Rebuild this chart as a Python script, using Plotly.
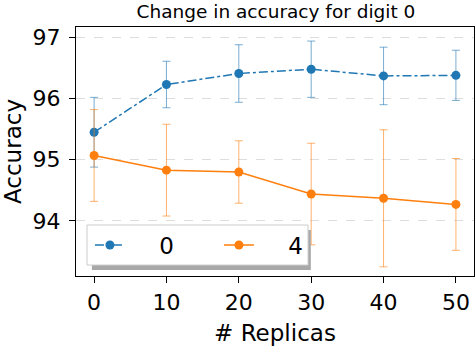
import plotly.graph_objects as go

replicas = [0, 10, 20, 30, 40, 50]

# digit 0 series
acc_0 = [95.45, 96.23, 96.41, 96.48, 96.37, 96.38]
err_0 = [0.57, 0.38, 0.47, 0.46, 0.47, 0.41]

# digit 4 series
acc_4 = [95.07, 94.83, 94.80, 94.44, 94.37, 94.27]
err_4 = [0.75, 0.75, 0.51, 0.83, 1.12, 0.75]

blue = "#1f77b4"
orange = "#ff7f0e"
pad = "\u00a0" * 4  # gap between legend symbol and label

fig = go.Figure()

fig.add_trace(go.Scatter(
    x=replicas, y=acc_0, name=pad + "0",
    mode="lines+markers",
    line=dict(color=blue, width=1.5, dash="dashdot"),
    marker=dict(color=blue, size=9),
    error_y=dict(type="data", array=err_0, color="rgba(31,119,180,0.6)",
                 thickness=1, width=4),
))

fig.add_trace(go.Scatter(
    x=replicas, y=acc_4, name=pad + "4",
    mode="lines+markers",
    line=dict(color=orange, width=1.5),
    marker=dict(color=orange, size=9),
    error_y=dict(type="data", array=err_4, color="rgba(255,127,14,0.6)",
                 thickness=1, width=4),
))

# legend frame drawn by hand: shadow, then white box
fig.add_shape(type="rect", xref="paper", yref="paper",
              x0=0.04, x1=0.59, y0=0.024, y1=0.185,
              fillcolor="#a8a8a8", line=dict(width=0), layer="above")
fig.add_shape(type="rect", xref="paper", yref="paper",
              x0=0.0276, x1=0.583, y0=0.044, y1=0.2048,
              fillcolor="white", line=dict(color="#cccccc", width=1), layer="above")

fig.update_layout(
    width=475, height=346,
    margin=dict(l=76, r=1, t=27, b=70),
    paper_bgcolor="white", plot_bgcolor="white",
    font=dict(family="DejaVu Sans", color="black"),
    title=dict(text="Change in accuracy for digit 0", x=0.581, xanchor="center",
               y=0.966, yanchor="middle", font=dict(size=18.5)),
    showlegend=True,
    legend=dict(x=0.035, y=0.1245, xanchor="left", yanchor="middle",
                orientation="h", bgcolor="rgba(0,0,0,0)", borderwidth=0,
                font=dict(size=23), entrywidth=84, tracegroupgap=0),
    xaxis=dict(range=[-2.5, 52.5], tickvals=replicas,
               title=dict(text="# Replicas", font=dict(size=23), standoff=11),
               showgrid=False, zeroline=False, showline=True, mirror=True,
               linecolor="black", linewidth=1.2, ticks="outside", ticklen=6,
               tickcolor="black", tickfont=dict(size=22)),
    yaxis=dict(range=[93.1, 97.17], tickvals=[94, 95, 96, 97],
               title=dict(text="Accuracy", font=dict(size=23), standoff=6),
               showgrid=True, gridcolor="#dddddd", griddash="dash", gridwidth=0.8,
               zeroline=False, showline=True, mirror=True,
               linecolor="black", linewidth=1.2, ticks="outside", ticklen=6,
               ticklabelstandoff=4,
               tickcolor="black", tickfont=dict(size=22)),
)

fig.write_html("out.html", config={"displayModeBar": False},
               post_script="document.body.style.margin='0';")
